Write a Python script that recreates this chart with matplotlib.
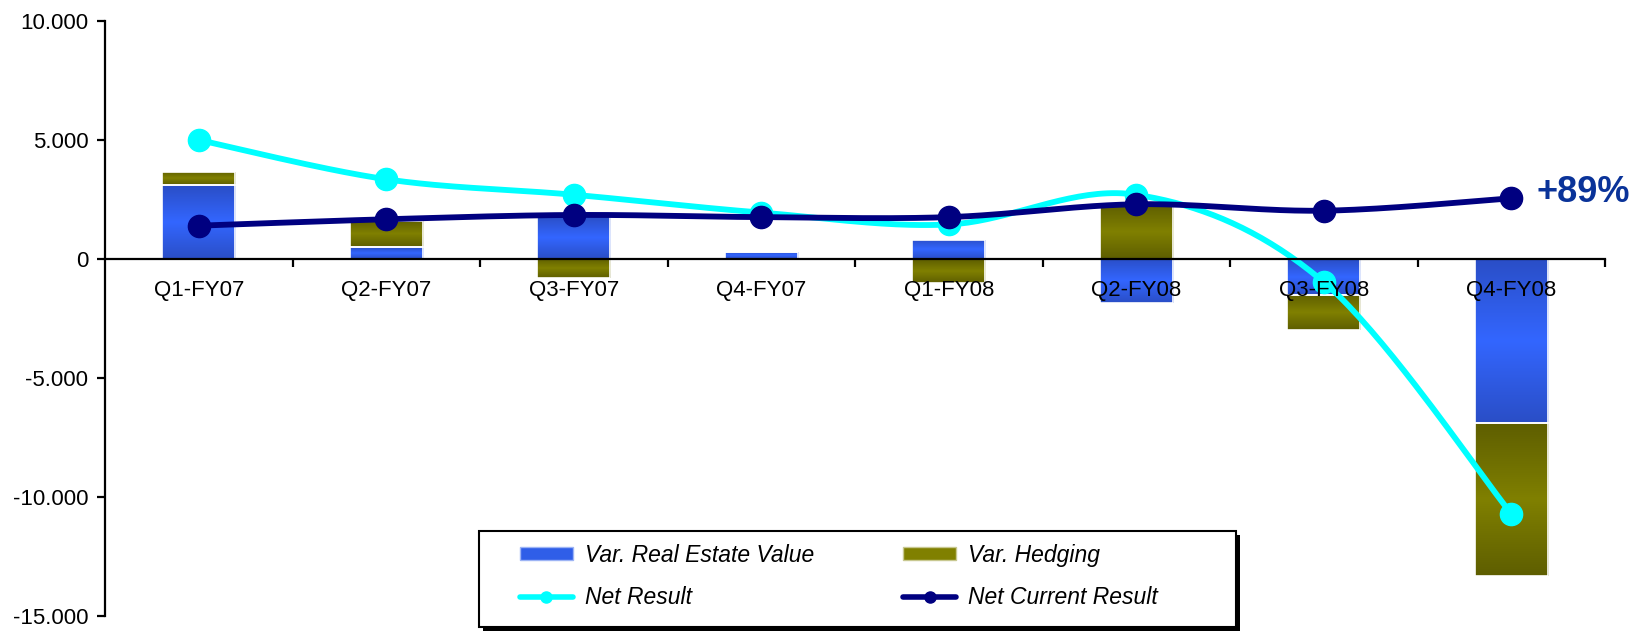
import numpy as np
import matplotlib
matplotlib.use("Agg")
import matplotlib.pyplot as plt
from matplotlib.lines import Line2D
from matplotlib.patches import Patch, Rectangle
from matplotlib.colors import LinearSegmentedColormap
from matplotlib.ticker import FuncFormatter, FixedLocator

plt.rcParams['font.family'] = ['Liberation Sans', 'DejaVu Sans']

categories = ["Q1-FY07", "Q2-FY07", "Q3-FY07", "Q4-FY07",
              "Q1-FY08", "Q2-FY08", "Q3-FY08", "Q4-FY08"]
var_real_estate = [3100, 500, 1800, 300, 800, -1850, -1500, -6900]
var_hedging = [550, 1100, -800, 0, -1000, 2300, -1500, -6400]
net_result = [5000, 3350, 2700, 1950, 1450, 2700, -970, -10700]
net_current_result = [1400, 1670, 1850, 1760, 1760, 2300, 2030, 2550]
growth_label = "+89%"

W, H = 1650, 631
fig = plt.figure(figsize=(W / 100, H / 100), dpi=100)
ax = fig.add_axes([105 / W, 1 - 616 / H, 1500 / W, 595 / H])

x = np.arange(len(categories))
width = 0.39

blue_cmap = LinearSegmentedColormap.from_list("b", ["#2a4ec6", "#3366ff", "#2a4ec6"])
olive_cmap = LinearSegmentedColormap.from_list("o", ["#5e5e00", "#808000", "#5e5e00"])

def gradient_bars(rects, cmap):
    grad = np.linspace(0, 1, 256).reshape(-1, 1)
    for r in rects:
        h = r.get_height()
        if h == 0:
            continue
        x0, y0 = r.get_x(), r.get_y()
        y1 = y0 + h
        im = ax.imshow(grad, cmap=cmap, aspect='auto',
                       extent=[x0, x0 + r.get_width(), min(y0, y1), max(y0, y1)],
                       origin='lower', zorder=1.5)
        im.set_clip_path(r)
        r.set_facecolor('none')

re_arr = np.array(var_real_estate, dtype=float)
hd_arr = np.array(var_hedging, dtype=float)
pos_base = np.where(re_arr > 0, re_arr, 0)
neg_base = np.where(re_arr < 0, re_arr, 0)
hd_bottom = np.where(hd_arr >= 0, pos_base, neg_base)

b1 = ax.bar(x, re_arr, width, color='#3366ff', edgecolor='white', linewidth=1.2, zorder=1.6)
b2 = ax.bar(x, hd_arr, width, bottom=hd_bottom, color='#808000', edgecolor='white',
            linewidth=1.2, zorder=1.6)
gradient_bars(b1, blue_cmap)
gradient_bars(b2, olive_cmap)

def smooth(xs, ys, n=40):
    P = np.column_stack([xs, ys]).astype(float)
    out = [P[0]]
    m = len(P)
    for i in range(m - 1):
        p0 = P[i - 1] if i > 0 else P[i]
        p1 = P[i]
        p2 = P[i + 1]
        p3 = P[i + 2] if i + 2 < m else P[i + 1]
        c1 = p1 + (p2 - p0) / 6.0
        c2 = p2 - (p3 - p1) / 6.0
        t = np.linspace(0, 1, n)[1:, None]
        seg = ((1 - t) ** 3) * p1 + 3 * ((1 - t) ** 2) * t * c1 + 3 * (1 - t) * t ** 2 * c2 + t ** 3 * p2
        out.extend(seg)
    out = np.array(out)
    return out[:, 0], out[:, 1]

sx, sy = smooth(x, net_result)
ax.plot(sx, sy, color='#00ffff', lw=4.2, zorder=3, solid_capstyle='round')
ax.plot(x, net_result, 'o', color='#00ffff', ms=16, zorder=3)
sx, sy = smooth(x, net_current_result)
ax.plot(sx, sy, color='#000080', lw=4.2, zorder=4, solid_capstyle='round')
ax.plot(x, net_current_result, 'o', color='#000080', ms=16, zorder=4)

ax.annotate(growth_label, xy=(x[-1], net_current_result[-1]), xytext=(18, 4),
            textcoords='offset points', ha='left', va='center',
            fontsize=26, fontweight='bold', color='#0a3399', zorder=6)

ax.set_xlim(-0.5, len(categories) - 0.5)
ax.set_ylim(-15000, 10000)

ax.spines['top'].set_visible(False)
ax.spines['right'].set_visible(False)
ax.spines['bottom'].set_position(('data', 0))
ax.spines['bottom'].set_linewidth(1.6)
ax.spines['left'].set_linewidth(1.6)
ax.spines['bottom'].set_zorder(5)
ax.spines['left'].set_zorder(5)

ax.xaxis.set_major_locator(FixedLocator(np.arange(0.5, len(categories), 1.0)))
ax.xaxis.set_major_formatter(FuncFormatter(lambda v, p: ""))
ax.set_xticks(x, categories, minor=True)
ax.tick_params(axis='x', which='major', direction='out', length=6, width=1.6)
ax.tick_params(axis='x', which='minor', length=0, labelsize=16, pad=15)
ax.xaxis.set_zorder(7)

ax.set_yticks([-15000, -10000, -5000, 0, 5000, 10000])
ax.yaxis.set_major_formatter(FuncFormatter(lambda v, p: f"{int(v):,}".replace(",", ".")))
ax.tick_params(axis='y', direction='out', length=6, width=1.6, labelsize=16, pad=6)

# legend frame with shadow
fig.patches.append(Rectangle((483 / W, 1 - 631 / H), 757 / W, 96 / H,
                             transform=fig.transFigure, facecolor='black',
                             edgecolor='none', zorder=8))
fig.patches.append(Rectangle((479 / W, 1 - 627 / H), 757 / W, 96 / H,
                             transform=fig.transFigure, facecolor='white',
                             edgecolor='black', linewidth=1.5, zorder=8.1))

handles = [Patch(facecolor='#2f5ee8', edgecolor='#9db4f5', label='Var. Real Estate Value'),
           Line2D([0], [0], color='#00ffff', lw=4, marker='o', ms=8, label='Net Result',
                  solid_capstyle='round'),
           Patch(facecolor='#808000', edgecolor='#c8c890', label='Var. Hedging'),
           Line2D([0], [0], color='#000080', lw=4, marker='o', ms=8, label='Net Current Result',
                  solid_capstyle='round')]
leg = fig.legend(handles=handles, ncol=2, loc='upper left',
                 bbox_to_anchor=(520 / W, 1 - 544 / H), bbox_transform=fig.transFigure,
                 frameon=False, borderpad=0, borderaxespad=0,
                 prop={'style': 'italic', 'size': 16.5},
                 handlelength=2.3, handleheight=0.48, columnspacing=3.9,
                 labelspacing=0.85, handletextpad=0.52)
leg.set_zorder(9)

fig.savefig("out.png", dpi=100)
